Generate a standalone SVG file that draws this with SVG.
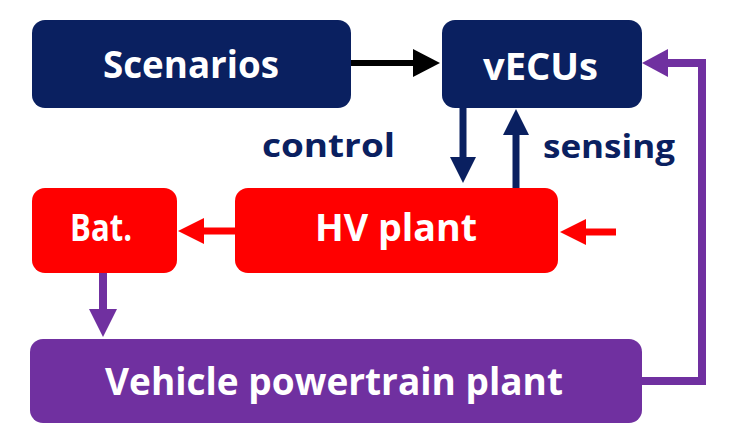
<svg xmlns="http://www.w3.org/2000/svg" width="749" height="442" viewBox="0 0 749 442">
<defs>
<style>
.nav{fill:#0a2060}
.red{fill:#ff0000}
.pur{fill:#7030a0}
.t{font-family:"Open Sans","Liberation Sans",Arial,sans-serif;font-weight:bold;fill:#ffffff;font-size:37px}
.lbl{font-family:"Open Sans","Liberation Sans",Arial,sans-serif;font-weight:bold;fill:#0a2060;font-size:33px}
</style>
</defs>
<rect width="749" height="442" fill="#ffffff"/>
<g id="connectors">
<line x1="351" y1="63" x2="414" y2="63" stroke="#000" stroke-width="6"/>
<polygon points="440,63 413,49 413,77" fill="#000"/>
<line x1="463" y1="108" x2="463" y2="158" stroke="#0a2060" stroke-width="7"/>
<polygon points="463,183 450,157 476,157" fill="#0a2060"/>
<line x1="516" y1="188" x2="516" y2="134" stroke="#0a2060" stroke-width="7"/>
<polygon points="516,109 503,135 529,135" fill="#0a2060"/>
<line x1="235" y1="231" x2="202" y2="231" stroke="#ff0000" stroke-width="7"/>
<polygon points="178,231 204,218 204,244" fill="#ff0000"/>
<line x1="616" y1="232" x2="584" y2="232" stroke="#ff0000" stroke-width="7"/>
<polygon points="560,232 586,219 586,245" fill="#ff0000"/>
<line x1="103" y1="273" x2="103" y2="311" stroke="#7030a0" stroke-width="8"/>
<polygon points="103,337 89,309 117,309" fill="#7030a0"/>
<polyline points="642,381 702,381 702,63 665,63" fill="none" stroke="#7030a0" stroke-width="8"/>
<polygon points="642,63 668,49 668,77" fill="#7030a0"/>
</g>
<g id="scenarios">
<rect class="nav" x="32" y="20" width="319" height="88" rx="13"/>
<text class="t" x="103" y="78" textLength="176" lengthAdjust="spacingAndGlyphs">Scenarios</text>
</g>
<g id="vecus">
<rect class="nav" x="442" y="20" width="200" height="88" rx="13"/>
<text class="t" x="483" y="80" textLength="115" lengthAdjust="spacingAndGlyphs">vECUs</text>
</g>
<g id="label-control">
<text class="lbl" x="262" y="157" textLength="133" lengthAdjust="spacingAndGlyphs">control</text>
</g>
<g id="label-sensing">
<text class="lbl" x="543" y="158" textLength="132" lengthAdjust="spacingAndGlyphs">sensing</text>
</g>
<g id="bat">
<rect class="red" x="32" y="188" width="145" height="85" rx="13"/>
<text class="t" x="70" y="241" textLength="62" lengthAdjust="spacingAndGlyphs">Bat.</text>
</g>
<g id="hv-plant">
<rect class="red" x="235" y="188" width="323" height="85" rx="13"/>
<text class="t" x="315" y="241" textLength="162" lengthAdjust="spacingAndGlyphs">HV plant</text>
</g>
<g id="vehicle-powertrain-plant">
<rect class="pur" x="30" y="339" width="612" height="84" rx="13"/>
<text class="t" x="105" y="395" textLength="458" lengthAdjust="spacingAndGlyphs">Vehicle powertrain plant</text>
</g>
</svg>
